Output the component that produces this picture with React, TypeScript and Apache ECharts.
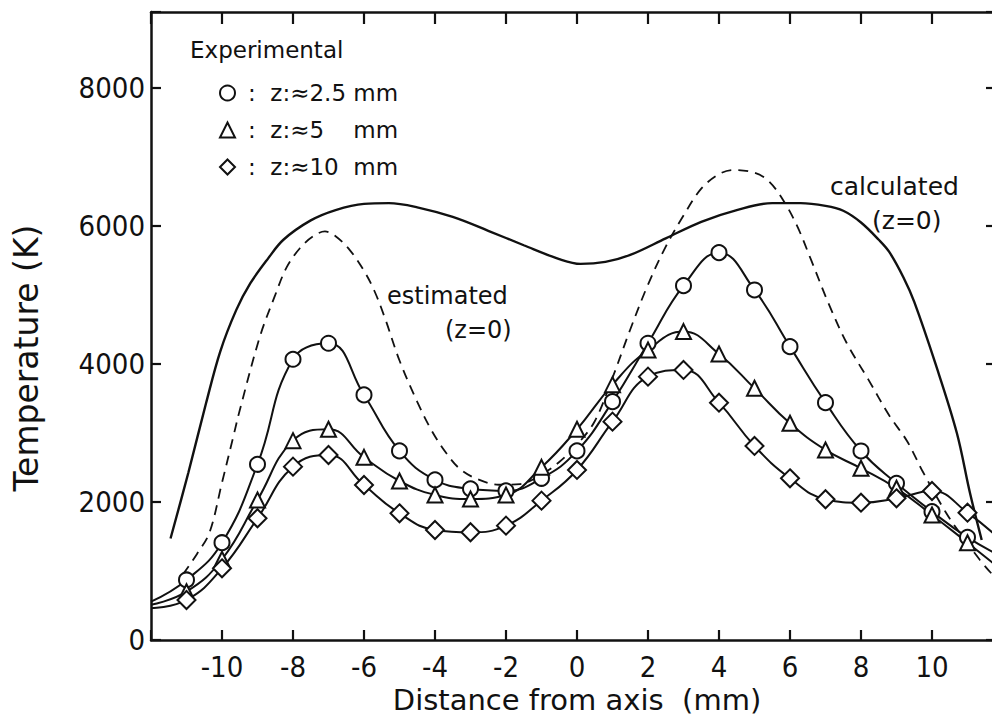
import React, { useEffect, useRef } from "react";
import * as echarts from "echarts";

// Radial positions of the experimental points (mm); the outermost entries are the curve ends at the frame
const positionsMm = [-12, -11, -10, -9, -8, -7, -6, -5, -4, -3, -2, -1, 0, 1, 2, 3, 4, 5, 6, 7, 8, 9, 10, 11, 12];
// Experimental temperatures (K)
const tempZ2_5 = [555, 870, 1410, 2546, 4068, 4300, 3551, 2740, 2320, 2190, 2160, 2343, 2740, 3454, 4300, 5135, 5613, 5072, 4251, 3439, 2739, 2271, 1860, 1488, 1200];
const tempZ5 = [510, 700, 1170, 2029, 2889, 3053, 2647, 2304, 2101, 2043, 2101, 2502, 3053, 3700, 4203, 4469, 4145, 3647, 3140, 2754, 2488, 2198, 1812, 1410, 1000];
const tempZ10 = [460, 580, 1039, 1764, 2512, 2681, 2246, 1836, 1594, 1561, 1657, 2019, 2464, 3164, 3816, 3913, 3439, 2812, 2343, 2039, 1990, 2053, 2159, 1845, 1420];

// Calculated curve (z = 0)
const calcX = [-11.45, -10.95, -10.45, -10.05, -9.6, -9.2, -8.7, -8.27, -7.5, -6.8, -6.0, -5.3, -4.5, -3.5, -2.5, -1.5, -0.5, 0.1, 0.8, 1.5, 2.5, 3.5, 4.5, 5.5, 6.3, 7.0, 7.5, 8.0, 8.5, 8.8, 9.2, 9.5, 10.1, 10.7, 11.07, 11.4];
const calcT = [1470, 2420, 3430, 4180, 4780, 5170, 5530, 5800, 6080, 6230, 6320, 6330, 6270, 6130, 5930, 5720, 5520, 5450, 5480, 5580, 5820, 6060, 6230, 6330, 6330, 6290, 6220, 6050, 5800, 5620, 5250, 4900, 4000, 3000, 2130, 1450];

// Estimated curve (z = 0)
const estX = [-11.1, -10.7, -10.35, -10.0, -9.68, -9.5, -8.93, -8.5, -8.18, -7.8, -7.43, -7.1, -6.8, -6.4, -6.0, -5.7, -5.4, -5.0, -4.5, -4.1, -3.7, -3.3, -2.8, -2.2, -1.6, -1.0, -0.5, 0.0, 0.5, 1.0, 1.5, 2.0, 2.5, 3.0, 3.5, 4.0, 4.4, 5.0, 5.4, 5.8, 6.2, 6.6, 7.1, 7.6, 8.2, 8.8, 9.3, 9.75, 10.4, 10.8, 11.35, 11.7, 12.0];
const estT = [950, 1250, 1560, 2280, 2950, 3330, 4400, 5000, 5400, 5680, 5850, 5920, 5850, 5650, 5350, 5050, 4650, 4050, 3450, 3040, 2720, 2480, 2330, 2250, 2260, 2400, 2580, 2830, 3170, 3800, 4500, 5150, 5700, 6150, 6540, 6750, 6810, 6770, 6650, 6380, 6000, 5500, 4860, 4300, 3780, 3250, 2880, 2430, 1840, 1540, 1160, 950, 800];

// Axis ticks
const xMin = -12;
const xMax = 12;
const xStep = 2;
const yMin = 0;
const yMax = 9100;
const yStep = 2000;

const legendNames = [":  z:≈2.5 mm", ":  z:≈5    mm", ":  z:≈10  mm"];

const tickFont = "'Liberation Sans Narrow', 'DejaVu Sans Condensed', 'DejaVu Sans', sans-serif";
const textFont = "'DejaVu Sans', sans-serif";

function expData(values: number[]) {
  const last = positionsMm.length - 1;
  return positionsMm.map((x, i) =>
    i === 0 || i === last ? { value: [x, values[i]], symbol: "none" } : { value: [x, values[i]] }
  );
}

export default function App() {
  const ref = useRef<HTMLDivElement>(null);
  useEffect(() => {
    if (!ref.current) return;
    const chart = echarts.init(ref.current, null, { renderer: "svg" });
    const black = "#111";
    const markerStyle = { color: "#fff", borderColor: black, borderWidth: 2 };
    const frameLine = { show: true, onZero: false, lineStyle: { color: black, width: 2.5 } };
    const expSeries = (name: string, values: number[], symbol: string, size: number) => ({
      name,
      type: "line",
      smooth: 0.45,
      data: expData(values),
      symbol,
      symbolSize: size,
      showAllSymbol: true,
      lineStyle: { color: black, width: 2 },
      itemStyle: markerStyle,
      z: 3,
    });
    chart.setOption({
      animation: false,
      backgroundColor: "#fff",
      grid: { left: 151, right: 7, top: 12, bottom: 85, containLabel: false },
      legend: {
        orient: "vertical",
        left: 214,
        top: 76,
        itemWidth: 15,
        itemHeight: 15,
        itemGap: 13,
        selectedMode: false,
        data: [
          { name: legendNames[0], icon: "circle" },
          { name: legendNames[1], icon: "triangle" },
          { name: legendNames[2], icon: "diamond" },
        ],
        itemStyle: { color: "#fff", borderColor: black, borderWidth: 2 },
        textStyle: { fontSize: 23, fontFamily: textFont, color: black, padding: [0, 0, 0, 8], lineHeight: 24 },
      },
      xAxis: [
        {
          type: "value",
          min: xMin,
          max: xMax,
          interval: xStep,
          position: "bottom",
          name: "Distance from axis  (mm)",
          nameLocation: "middle",
          nameGap: 44,
          nameTextStyle: { fontSize: 29, fontFamily: textFont, color: black },
          axisLine: frameLine,
          axisTick: { show: true, inside: true, length: 10, lineStyle: { color: black, width: 2.2 } },
          axisLabel: {
            margin: 12,
            fontSize: 29,
            fontFamily: tickFont,
            color: black,
            formatter: (v: number) => (Math.abs(v) >= 12 ? "" : String(v)),
          },
          splitLine: { show: false },
        },
        {
          type: "value",
          min: xMin,
          max: xMax,
          interval: xStep,
          position: "top",
          axisLine: frameLine,
          axisTick: { show: true, inside: true, length: 12, lineStyle: { color: black, width: 2.2 } },
          axisLabel: { show: false },
          splitLine: { show: false },
        },
      ],
      yAxis: [
        {
          type: "value",
          min: yMin,
          max: yMax,
          interval: yStep,
          position: "left",
          axisLine: frameLine,
          axisTick: { show: true, inside: true, length: 10, lineStyle: { color: black, width: 2.2 } },
          axisLabel: {
            margin: 6,
            fontSize: 29,
            fontFamily: tickFont,
            color: black,
            formatter: (v: number) => (v % yStep === 0 ? String(v) : ""),
          },
          splitLine: { show: false },
        },
        {
          type: "value",
          min: yMin,
          max: yMax,
          interval: yStep,
          position: "right",
          axisLine: frameLine,
          axisTick: { show: true, inside: true, length: 17, lineStyle: { color: black, width: 2.2 } },
          axisLabel: { show: false },
          splitLine: { show: false },
        },
      ],
      graphic: [
        {
          type: "text",
          x: 26,
          y: 358,
          rotation: Math.PI / 2,
          style: { text: "Temperature (K)", fontSize: 33, fontFamily: textFont, fill: black, align: "center", verticalAlign: "middle" },
        },
        { type: "text", left: 190, top: 38, style: { text: "Experimental", fontSize: 23, fontFamily: textFont, fill: black } },
        { type: "text", left: 387, top: 284, style: { text: "estimated", fontSize: 24, fontFamily: textFont, fill: black } },
        { type: "text", left: 445, top: 318, style: { text: "(z=0)", fontSize: 24, fontFamily: textFont, fill: black } },
        { type: "text", left: 830, top: 174, style: { text: "calculated", fontSize: 25, fontFamily: textFont, fill: black } },
        { type: "text", left: 872, top: 208, style: { text: "(z=0)", fontSize: 25, fontFamily: textFont, fill: black } },
      ],
      series: [
        {
          name: "calculated (z=0)",
          type: "line",
          xAxisIndex: 1,
          yAxisIndex: 1,
          smooth: 0.35,
          symbol: "none",
          data: calcX.map((x, i) => [x, calcT[i]]),
          lineStyle: { color: black, width: 2.4 },
          z: 2,
        },
        {
          name: "estimated (z=0)",
          type: "line",
          smooth: 0.35,
          symbol: "none",
          data: estX.map((x, i) => [x, estT[i]]),
          lineStyle: { color: black, width: 1.8, type: [10, 7] },
          z: 2,
        },
        expSeries(legendNames[0], tempZ2_5, "circle", 15),
        expSeries(legendNames[1], tempZ5, "triangle", 15),
        expSeries(legendNames[2], tempZ10, "diamond", 18),
      ],
    });
    return () => chart.dispose();
  }, []);
  return (
    <div style={{ position: "fixed", left: 0, top: 0, width: 992, height: 725, overflow: "hidden", background: "#fff" }}>
      <div ref={ref} style={{ width: 1010, height: 725 }} />
    </div>
  );
}
